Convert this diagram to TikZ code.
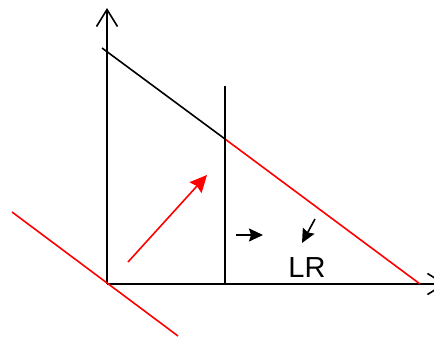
\documentclass[tikz,border=0pt]{standalone}
\usepackage{fontspec}
\setsansfont{Liberation Sans}
\usetikzlibrary{arrows.meta}

\begin{document}
\begin{tikzpicture}[x=1pt, y=-1pt,
    axis/.style={line width=1.6pt, -{Straight Barb[length=17pt, width=21pt, line width=1.6pt]}},
    lin/.style={line width=1.6pt},
    redlin/.style={line width=1.6pt, red},
    flow/.style={line width=1.6pt, -{Stealth[length=14pt, width=13pt, inset=2pt]}}]
        \useasboundingbox (0,0) rectangle (434,339);
        % axes
        \coordinate (o) at (107,284);
        \coordinate (ytop) at (107,8);
        \coordinate (xend) at (446,284);
        \draw[axis] (o) -- (ytop);
        \draw[axis] (o) -- (xend);

        % diagonal line, black part then red part
        \coordinate (a) at (102,48);
        \coordinate (m) at (225,139);
        \coordinate (b) at (420,284);
        \draw[lin] (a) -- (m);
        \draw[redlin] (m) -- (b);

        % vertical line
        \coordinate (vtop) at (225,86);
        \coordinate (vbot) at (225,284);
        \draw[line width=2.4pt] (vtop) -- (vbot);

        % red line through origin
        \coordinate (r1) at (12,212);
        \coordinate (r2) at (178,336);
        \draw[redlin] (r1) -- (r2);

        % red arrow
        \coordinate (p1) at (128,262);
        \coordinate (p2) at (207,175);
        \draw[redlin, -{Stealth[length=17pt, width=16pt, inset=2pt]}] (p1) -- (p2);

        % small arrows
        \coordinate (s1) at (236,235);
        \coordinate (s2) at (263,235);
        \coordinate (t1) at (315,219);
        \coordinate (t2) at (302,243);
        \draw[flow] (s1) -- (s2);
        \draw[flow] (t1) -- (t2);

        \node[font=\sffamily\fontsize{29}{29}\selectfont] (lr) at (307,268) {LR};
      \end{tikzpicture}
\end{document}
